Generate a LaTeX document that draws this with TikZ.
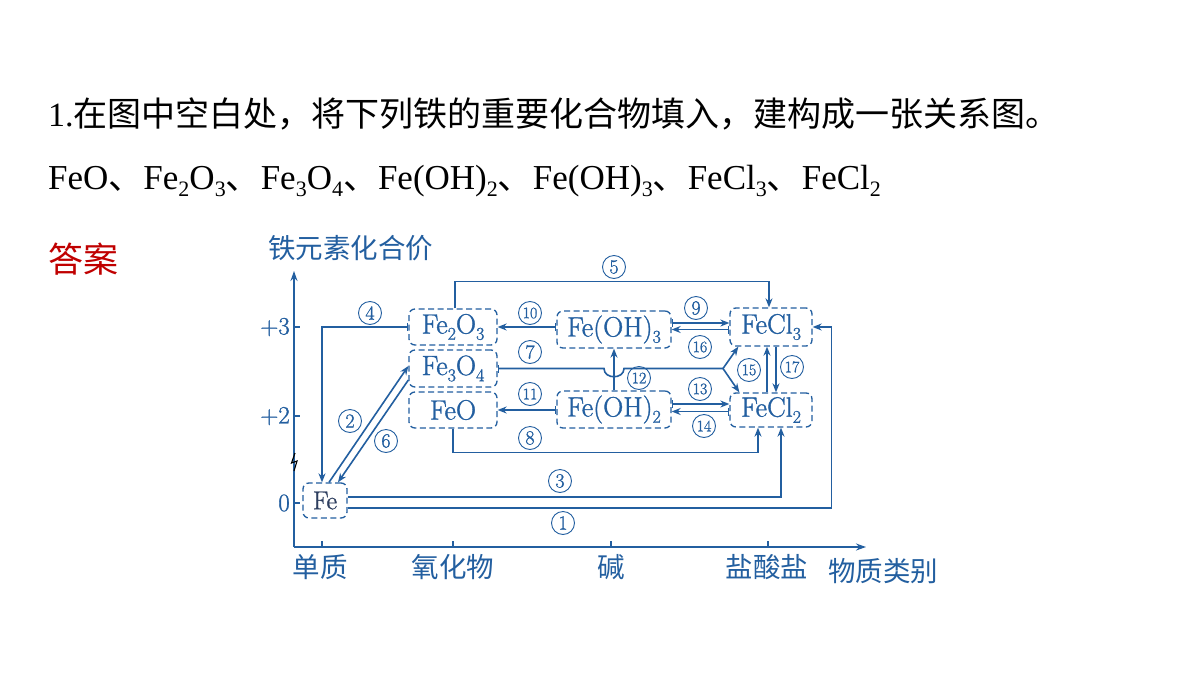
\documentclass[tikz,border=0pt]{standalone}
\usepackage{fontspec}
\usetikzlibrary{arrows.meta,calc}
\newfontfamily\tnr{Liberation Serif}
\newfontfamily\cjk{Noto Sans CJK SC}
\newfontfamily\dfont[FakeBold=1.2]{Latin Modern Roman}
\definecolor{fblue}{RGB}{35,95,160}
\definecolor{ansred}{RGB}{192,0,0}
\definecolor{fedark}{RGB}{45,62,95}
\newcommand\tsub[1]{\raisebox{-0.22em}{\fontsize{22}{22}\selectfont #1}}
\newcommand\dsub[1]{\raisebox{-0.22em}{\fontsize{18}{18}\selectfont #1}}
\begin{document}
\begin{tikzpicture}[x=1pt,y=-1pt,
 box/.style={draw=fblue, text=fblue, dash pattern=on 6pt off 3.5pt, rounded corners=6pt, line width=1.3pt, inner sep=0pt, font=\dfont\fontsize{28}{28}\selectfont},
 conn/.style={draw=fblue, line width=1.6pt},
 arr/.style={conn, -{Stealth[length=9pt,width=7pt]}},
 barr/.style={conn, {Bar[width=8pt]}-{Stealth[length=9pt,width=7pt]}},
 num/.style={circle, draw=fblue, text=fblue, line width=0.9pt, minimum size=23pt, inner sep=0pt, font=\dfont\fontsize{20}{20}\selectfont},
 num2/.style={num, font=\dfont\fontsize{16}{16}\selectfont},
 cjklab/.style={text=fblue, inner sep=0pt, font=\cjk\fontsize{27.5}{27.5}\selectfont},
 axisline/.style={draw=fblue, line width=1.6pt, -{Stealth[length=10pt,width=7pt]}},
 tickline/.style={draw=fblue, line width=1.4pt},
 ticklab/.style={text=fblue, inner sep=0pt, anchor=east, font=\dfont\fontsize{25}{25}\selectfont}
]
\fill[white] (0,0) rectangle (1200,675);
\useasboundingbox (0,0) rectangle (1200,675);

% header texts
\node[anchor=base west, inner sep=0pt, font=\fontsize{34}{34}\selectfont] (title) at (48,126)
  {\tnr 1.\cjk 在图中空白处，将下列铁的重要化合物填入，建构成一张关系图。};
\node[anchor=base west, inner sep=0pt, font=\fontsize{35}{35}\selectfont] (formulas) at (48,189)
  {\tnr FeO\cjk 、\tnr Fe\tsub{2}O\tsub{3}\cjk 、\tnr Fe\tsub{3}O\tsub{4}\cjk 、\tnr Fe(OH)\tsub{2}\cjk 、\tnr Fe(OH)\tsub{3}\cjk 、\tnr FeCl\tsub{3}\cjk 、\tnr FeCl\tsub{2}};
\node[anchor=base west, inner sep=0pt, text=ansred, font=\cjk\fontsize{35}{35}\selectfont] (ans) at (48,272) {答案};

% axes
\coordinate (O) at (294,547);
\coordinate (ytop) at (294,271);
\coordinate (xend) at (866,547);
\draw[axisline] (O) -- (ytop);
\draw[axisline] (O) -- (xend);
\draw[tickline] (294,327) -- ++(6,0);
\draw[tickline] (294,416) -- ++(6,0);
\draw[tickline] (294,503) -- ++(6,0);
\draw[tickline] (322,547) -- ++(0,-6);
\draw[tickline] (453,547) -- ++(0,-6);
\draw[tickline] (611,547) -- ++(0,-6);
\draw[tickline] (768,547) -- ++(0,-6);
\node[ticklab] (t3) at (290,327) {+3};
\node[ticklab] (t2) at (290,416) {+2};
\node[ticklab] (t0) at (290,503) {0};
\draw[black, line width=1.1pt] (295,453) -- (291.5,463) -- (297,461) -- (294,471);

\node[cjklab, anchor=base west] (ylab) at (268,258) {铁元素化合价};
\node[cjklab, anchor=base] (xl1) at (320,577) {单质};
\node[cjklab, anchor=base] (xl2) at (453,577) {氧化物};
\node[cjklab, anchor=base] (xl3) at (611,577) {碱};
\node[cjklab, anchor=base] (xl4) at (767,577) {盐酸盐};
\node[cjklab, anchor=base west] (xlab) at (828,581) {物质类别};

% boxes
\node[box, minimum width=88pt, minimum height=36pt] (fe2o3) at (453,327) {Fe\dsub{2}O\dsub{3}};
\node[box, minimum width=88pt, minimum height=37pt] (fe3o4) at (453,368.5) {Fe\dsub{3}O\dsub{4}};
\node[box, minimum width=88pt, minimum height=36pt] (feo) at (453,410) {FeO};
\node[box, minimum width=114pt, minimum height=37pt] (feoh3) at (614,329.5) {Fe(OH)\dsub{3}};
\node[box, minimum width=114pt, minimum height=37pt] (feoh2) at (614,409.5) {Fe(OH)\dsub{2}};
\node[box, minimum width=82pt, minimum height=38pt] (fecl3) at (771,327) {FeCl\dsub{3}};
\node[box, minimum width=82pt, minimum height=34pt] (fecl2) at (771,410) {FeCl\dsub{2}};
\node[box, minimum width=44pt, minimum height=35pt, text=fedark, font=\dfont\fontsize{26}{26}\selectfont] (fe) at (325,500.5) {Fe};

% connectors
\draw[arr] ([xshift=2pt]fe2o3.north) -- ++(0,-27) -| ([xshift=-2pt]fecl3.north);
\draw[barr] (fe2o3.west) -| ([xshift=-3pt]fe.north);
\draw[barr] (feoh3.west |- fe2o3.east) -- (fe2o3.east);
\draw[barr] (feoh2.west |- feo.east) -- (feo.east);
\coordinate (b7) at (feoh3.south |- fe3o4.east);
\coordinate (j7) at (723,368.5);
\draw[conn, {Bar[width=8pt]}-] (fe3o4.east) -- ($(b7)+(-10,0)$) .. controls +(0,11) and +(0,11) .. ($(b7)+(10,0)$) -- (j7);
\draw[arr] (j7) -- ([xshift=9pt]fecl3.south west);
\draw[arr] (j7) -- ([xshift=10pt]fecl2.north west);
\draw[arr] (feoh2.north) -- (feoh3.south);
\coordinate (p9) at ([yshift=6.5pt]feoh3.east);
\draw[barr] (p9) -- (p9 -| fecl3.west);
\coordinate (p16) at (fecl3.west |- feoh3.east);
\draw[barr] (p16) -- (p16 -| feoh3.east);
\coordinate (p13) at ([yshift=5.5pt]feoh2.east);
\draw[barr] (p13) -- (p13 -| fecl2.west);
\coordinate (p14) at ([yshift=-1.5pt]fecl2.west);
\draw[barr] (p14) -- (p14 -| feoh2.east);
\coordinate (p15) at ([xshift=-4pt]fecl2.north);
\draw[arr] (p15) -- (p15 |- fecl3.south);
\coordinate (p17) at ([xshift=5pt]fecl3.south);
\draw[arr] (p17) -- (p17 |- fecl2.north);
\draw[arr] (feo.south) -- ++(0,24) -| ([xshift=-13pt]fecl2.south);
\draw[arr] ([yshift=3.5pt]fe.east) -| ([xshift=10pt]fecl2.south);
\draw[arr] ([yshift=-7.5pt]fe.east) -| ([xshift=19pt]fecl3.east) -- (fecl3.east);
\draw[arr] ([xshift=4pt]fe.north) -- ([yshift=2.5pt]fe3o4.west);
\draw[arr] ([yshift=-11.5pt]fe3o4.west) -- ([xshift=13pt]fe.north);

% circled labels
\node[num] (n1) at (563,523) {1};
\node[num] (n2) at (350,421) {2};
\node[num] (n3) at (560,481) {3};
\node[num] (n4) at (370,313) {4};
\node[num] (n5) at (614,267) {5};
\node[num] (n6) at (386,441) {6};
\node[num] (n7) at (530,352) {7};
\node[num] (n8) at (530,438) {8};
\node[num] (n9) at (696,308) {9};
\node[num2] (n10) at (530,313) {10};
\node[num2] (n11) at (530,394) {11};
\node[num2] (n12) at (639,378) {12};
\node[num2] (n13) at (700,389) {13};
\node[num2] (n14) at (704,426) {14};
\node[num2] (n15) at (749,370) {15};
\node[num2] (n16) at (700,347) {16};
\node[num2] (n17) at (792,367) {17};
\end{tikzpicture}
\end{document}
